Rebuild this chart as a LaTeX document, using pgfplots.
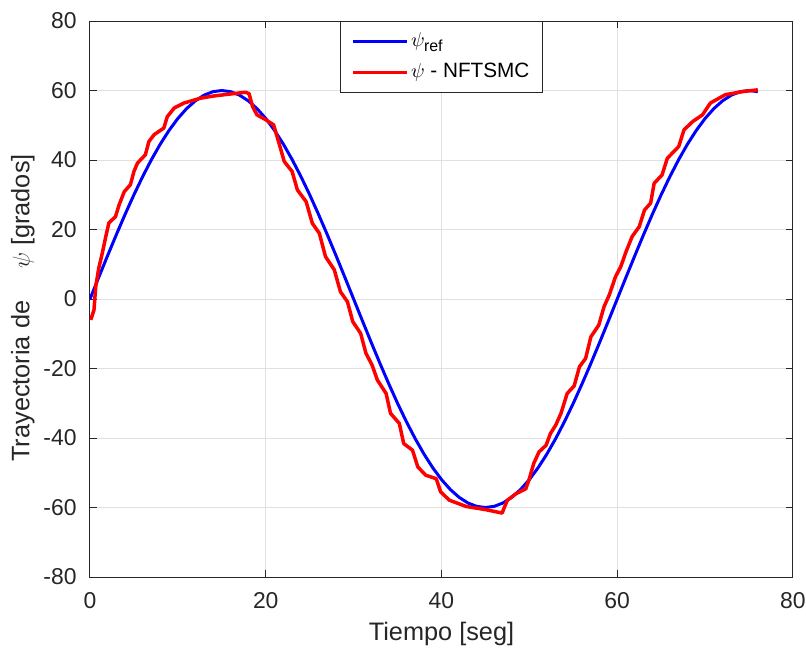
\documentclass[border=0pt]{standalone}
\usepackage{fontspec}
\setmainfont{Liberation Sans}
\usepackage{pgfplots}
\pgfplotsset{compat=1.18}
\definecolor{axgray}{gray}{0.15}
\definecolor{gridgray}{gray}{0.88}
\begin{document}
\begin{tikzpicture}
\useasboundingbox (-45bp,-37bp) rectangle (358bp,288.5bp);
\begin{axis}[
  at={(0,0)}, anchor=south west,
  scale only axis, width=351.5bp, height=278bp,
  xmin=0, xmax=80, ymin=-80, ymax=80,
  xtick={0,20,40,60,80}, ytick={-80,-60,...,80},
  grid=major, major grid style={gridgray, line width=0.5bp},
  axis line style={axgray, line width=0.5bp},
  tick style={axgray, line width=0.5bp},
  tick align=inside, major tick length=3.5bp,
  xtick pos=both, ytick pos=both,
  /pgf/number format/assume math mode=true,
  tick label style={font=\fontsize{11.5}{13}\selectfont, text=axgray},
  xticklabel style={yshift=-4bp},
  yticklabel style={xshift=-3.2bp},
  label style={font=\fontsize{12.7}{14}\selectfont, text=axgray},
  xlabel={Tiempo [seg]},
  xlabel style={at={(axis description cs:0.5,-0.1025)}, anchor=center},
  ylabel={Trayectoria de\hspace{16bp}$\psi$ [grados]},
  ylabel style={at={(axis description cs:-0.0955,0.484)}, anchor=center, rotate=0},
  legend cell align=left,
  legend image code/.code={\draw[#1] (2bp,0bp) -- (29bp,0bp);},
  legend style={at={(0.5,1)}, anchor=north, draw=axgray, line width=0.5bp,
    font=\fontsize{10.4}{12}\selectfont, inner xsep=5.5bp, inner ysep=3.5bp,
    row sep=2.5bp,
    nodes={inner xsep=1bp, inner ysep=1bp, text height=8bp, text depth=3bp}},
]
\addplot[blue, line width=1.5bp, line join=round] coordinates {
(0,0) (1,6.27) (2,12.47) (3,18.54) (4,24.40) (5,30) (6,35.27) (7,40.15) (8,44.59) (9,48.54) (10,51.96)
(11,54.81) (12,57.06) (13,58.69) (14,59.67) (15,60) (16,59.67) (17,58.69) (18,57.06) (19,54.81) (20,51.96)
(21,48.54) (22,44.59) (23,40.15) (24,35.27) (25,30) (26,24.40) (27,18.54) (28,12.47) (29,6.27) (30,0)
(31,-6.27) (32,-12.47) (33,-18.54) (34,-24.40) (35,-30) (36,-35.27) (37,-40.15) (38,-44.59) (39,-48.54) (40,-51.96)
(41,-54.81) (42,-57.06) (43,-58.69) (44,-59.67) (45,-60) (46,-59.67) (47,-58.69) (48,-57.06) (49,-54.81) (50,-51.96)
(51,-48.54) (52,-44.59) (53,-40.15) (54,-35.27) (55,-30) (56,-24.40) (57,-18.54) (58,-12.47) (59,-6.27) (60,0)
(61,6.27) (62,12.47) (63,18.54) (64,24.40) (65,30) (66,35.27) (67,40.15) (68,44.59) (69,48.54) (70,51.96)
(71,54.81) (72,57.06) (73,58.69) (74,59.67) (75,60) (76,59.67)
};
\addlegendentry{$\psi_{\mbox{\fontsize{8}{9}\selectfont ref}}$}
\addplot[red, line width=1.75bp, line join=round] coordinates {
(0.08,-6) (0.45,-3.2) (0.65,3.5) (1.0,8.9) (1.4,13.2) (1.8,18) (2.15,21.9) (2.9,23.7) (3.3,27) (3.9,30.9)
(4.6,32.9) (5.0,36.7) (5.4,39.1) (6.3,41.5) (6.7,45.3) (7.3,47.3) (8.4,49.2) (8.8,52.5) (9.6,55) (10.7,56.4)
(12.6,57.8) (14.0,58.4) (15.3,58.8) (17.7,59.5) (18.1,59.1) (18.5,55.4) (19.0,53) (20.0,51.6) (20.9,50.1)
(21.5,44.9) (22.1,39.6) (23.0,36.7) (23.6,31.4) (24.6,28) (25.3,21.8) (26.1,18.9) (26.8,12.2) (27.8,8.4)
(28.5,2.1) (29.3,-0.8) (29.9,-6.5) (30.8,-9.9) (31.4,-15.6) (32.1,-19) (32.7,-23.3) (33.7,-27.2) (34.2,-32.9)
(35.2,-35.8) (35.7,-41.6) (36.7,-43.5) (37.3,-48.3) (38.2,-50.7) (39.4,-51.7) (39.9,-55.5) (40.9,-57.9)
(42.8,-59.7) (45.0,-60.6) (46.9,-61.6) (47.1,-60.3) (47.5,-57.9) (48.5,-56) (49.6,-54.6) (50.0,-51.7)
(50.5,-47.3) (51.1,-44) (51.9,-42.1) (52.4,-38.7) (53.0,-36.3) (53.6,-32.9) (54.3,-27.2) (55.1,-25)
(55.7,-19.5) (56.4,-17.1) (57.0,-10.9) (57.9,-7.5) (58.5,-2.2) (59.1,1.2) (59.8,6.4) (60.4,9.3) (61.0,13.6)
(61.7,18) (62.5,20.8) (63.1,25.6) (63.8,27.6) (64.2,33.3) (65.1,35.7) (65.7,40.5) (67.0,43.9) (67.6,48.7)
(68.6,51.1) (69.7,53) (70.6,56.4) (72.3,58.8) (74.3,59.7) (76.0,60.2)
};
\addlegendentry{$\psi$ - NFTSMC}
\end{axis}
\end{tikzpicture}
\end{document}
